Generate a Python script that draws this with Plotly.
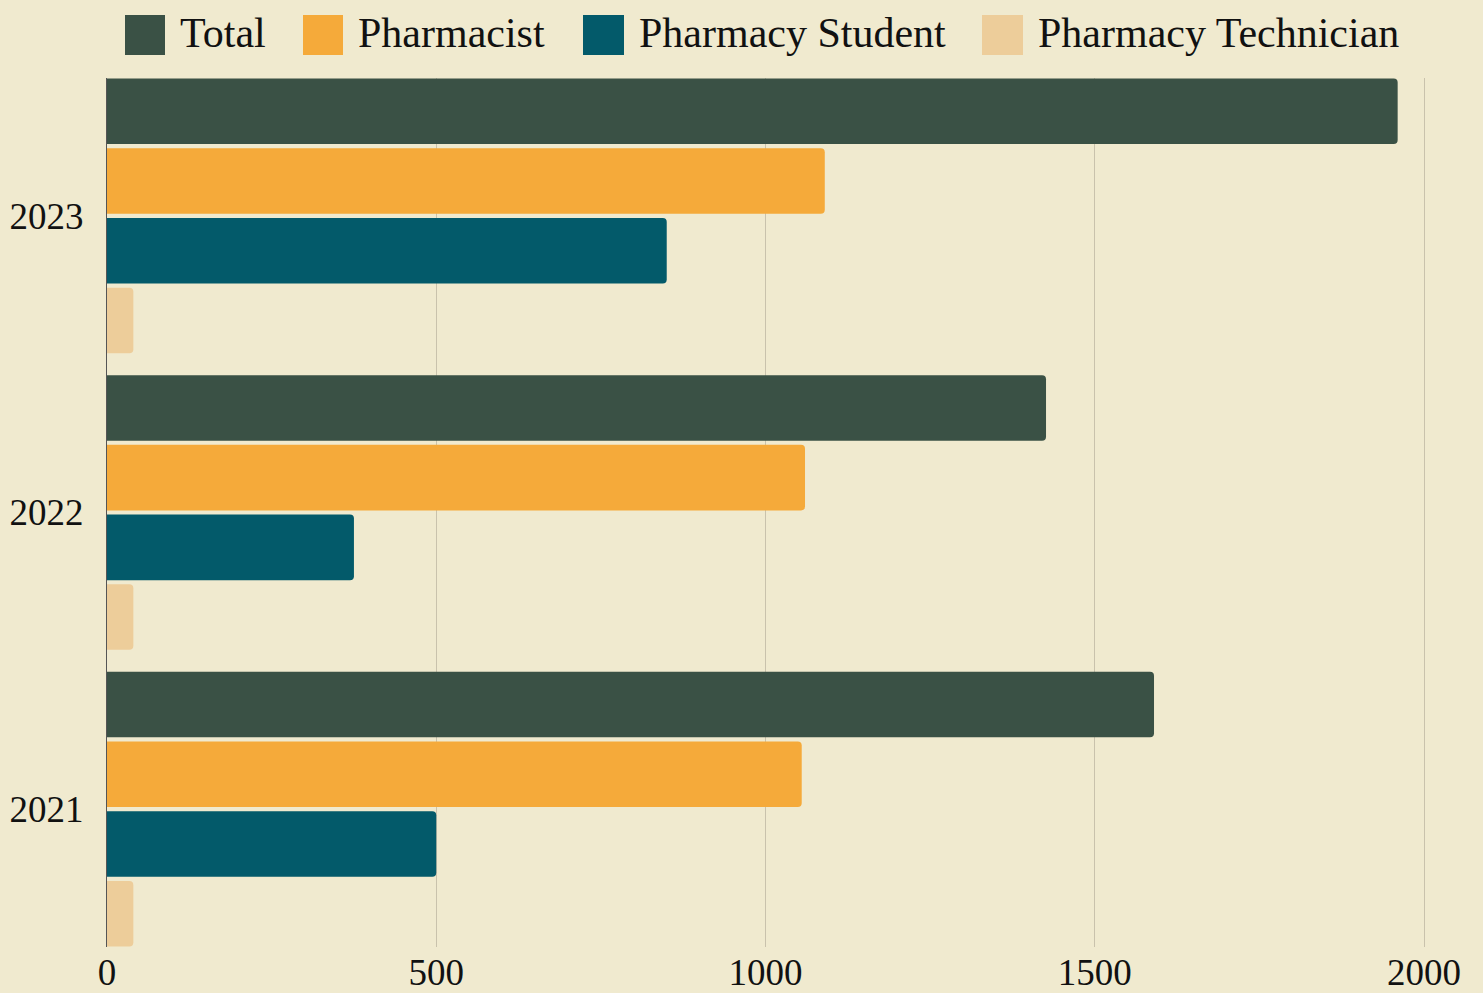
import plotly.graph_objects as go

years = ["2021", "2022", "2023"]
series_names = ["Total", "Pharmacist", "Pharmacy Student", "Pharmacy Technician"]
total = [1590, 1426, 1960]
pharmacist = [1055, 1060, 1090]
student = [500, 375, 850]
technician = [40, 40, 40]
colors = ["#3A5145", "#F5AA3A", "#035A6A", "#EDCD9A"]
x_ticks = [0, 500, 1000, 1500, 2000]

values = [total, pharmacist, student, technician]
FONT = "Liberation Serif"
BG = "#F0EACF"

fig = go.Figure()
# add in reverse so Total sits at the top of each group
for name, vals, col in reversed(list(zip(series_names, values, colors))):
    fig.add_trace(go.Bar(y=years, x=vals, name=name, orientation="h",
                         marker=dict(color=col, line=dict(width=0)),
                         showlegend=False))

W, H = 1483, 993
L, R, T, B = 107, 23, 78, 46
PW, PH = W - L - R, H - T - B

# manual legend (squares + text) at the top
legend_sq = [(125, 165), (303, 343), (583, 624), (982, 1023)]
for (x0, x1), name, col in zip(legend_sq, series_names, colors):
    fig.add_shape(type="rect", xref="paper", yref="paper",
                  x0=(x0 - L) / PW, x1=(x1 - L) / PW,
                  y0=1 + (T - 55) / PH, y1=1 + (T - 15) / PH,
                  fillcolor=col, line=dict(width=0), layer="above")
    fig.add_annotation(text=name, xref="paper", yref="paper",
                       x=(x1 + 13 - L) / PW, y=1 + (T - 33) / PH,
                       xanchor="left", yanchor="middle", showarrow=False,
                       font=dict(family=FONT, size=42, color="#111111"))

fig.update_layout(
    width=W, height=H,
    paper_bgcolor=BG, plot_bgcolor=BG,
    margin=dict(l=L, r=R, t=T, b=B),
    barmode="group", bargap=0.06, bargroupgap=0.06,
    barcornerradius=4,
    font=dict(family=FONT, size=37, color="#111111"),
)
fig.update_xaxes(range=[0, PW / 0.6585], tickvals=x_ticks, automargin=False,
                 showgrid=True, gridcolor="#C9C2AC", gridwidth=1,
                 zeroline=False, showline=False, ticks="",
                 ticklabelstandoff=0,
                 tickfont=dict(family=FONT, size=37))
fig.update_yaxes(type="category", categoryorder="array", categoryarray=years,
                 range=[-0.4646, 2.4646], showgrid=False, zeroline=False,
                 automargin=False,
                 showline=True, linecolor="#555555", linewidth=1,
                 ticks="outside", ticklen=15, tickcolor="rgba(0,0,0,0)",
                 tickfont=dict(family=FONT, size=37))

fig.write_html("out.html", config={"displayModeBar": False},
               post_script="document.body.style.margin='0';document.body.style.background='" + BG + "';")
